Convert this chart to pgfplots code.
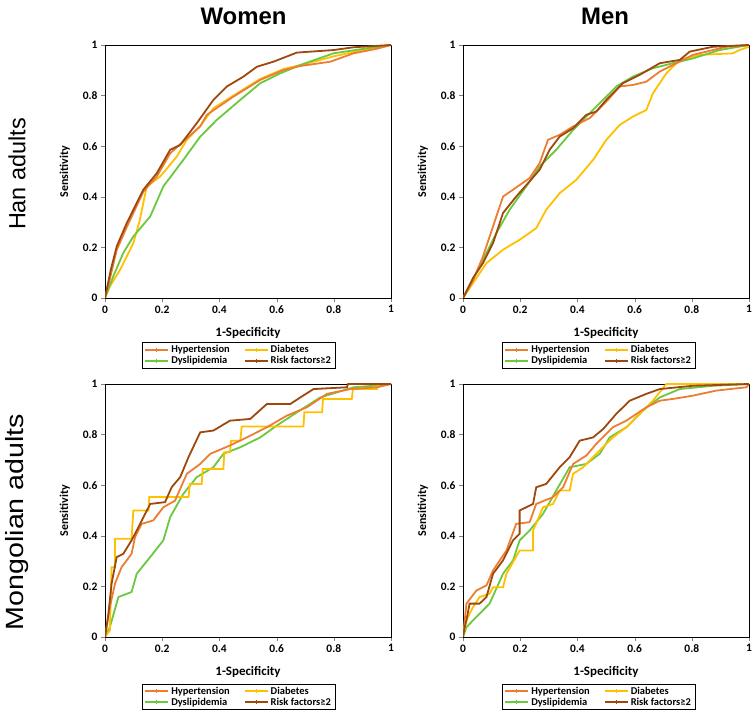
\documentclass[border=0pt]{standalone}
\usepackage{pgfplots}
\pgfplotsset{compat=1.18}
\usepackage{fontspec}
\setmainfont{Carlito}
\newfontfamily\arial{Liberation Sans}
\definecolor{hyp}{HTML}{ED7D31}
\definecolor{dia}{HTML}{FFC000}
\definecolor{dys}{HTML}{6CC83C}
\definecolor{risk}{HTML}{9E480E}
\pgfplotsset{
  rocax/.style={
    scale only axis, width=286bp, height=253bp,
    xmin=0, xmax=1, ymin=0, ymax=1,
    xtick={0,0.2,...,1}, ytick={0,0.2,...,1},
    xtick pos=left, ytick pos=left, tick align=outside,
    major tick length=4bp,
    /pgf/number format/assume math mode=true,
    ticklabel style={font=\bfseries\fontsize{11.5}{13}\selectfont},
    xlabel={1-Specificity}, ylabel={Sensitivity},
    xlabel style={font=\bfseries\fontsize{13}{15}\selectfont, at={(axis description cs:0.5,-0.138)}, anchor=center},
    ylabel style={font=\bfseries\fontsize{12}{14}\selectfont, at={(axis description cs:-0.14,0.5)}, anchor=center},
    axis line style={line width=0.8bp},
    every axis plot/.append style={line width=1.8bp, no markers},
    legend columns=2,
    legend cell align=left,
    legend style={font=\bfseries\fontsize{10.5}{11}\selectfont, draw=black, line width=0.7bp,
      inner xsep=2bp, inner ysep=0.8bp, row sep=-1.5bp,
      /tikz/every even column/.append style={column sep=12bp}},
    legend image code/.code={%
      \draw[#1, line width=2bp] (0bp,0bp) -- (23bp,0bp);
      \draw[#1, line width=0.9bp] (11.5bp,-2bp) -- (11.5bp,2bp);},
  },
}
\newcommand\rocleg{%
\addlegendimage{hyp}
\addlegendimage{dia}
\addlegendimage{dys}
\addlegendimage{risk}
\legend{Hypertension,Diabetes,Dyslipidemia,Risk factors≥2}}
\begin{document}
\begin{tikzpicture}
\path[use as bounding box] (0,0) rectangle (756bp,710bp);
\node[font=\arial\bfseries\fontsize{24}{26}\selectfont] at (243.5bp,694bp) {Women};
\node[font=\arial\bfseries\fontsize{24}{26}\selectfont] at (605bp,694bp) {Men};
\node[rotate=90, font=\arial\fontsize{23.5}{25}\selectfont] at (17bp,536bp) {Han adults};
\node[rotate=90, font=\arial\fontsize{25}{27}\selectfont] at (17bp,188bp) {\scalebox{1.15}[1]{Mongolian adults}};

% ---------------- Han women
\begin{axis}[rocax, at={(105bp,412bp)}, anchor=south west,
  legend style={at={(axis description cs:0.467,-0.174)}, anchor=north}]
\rocleg
\addplot[dia, forget plot] coordinates {(0,0) (0.017,0.046) (0.053,0.112) (0.099,0.217) (0.120,0.300) (0.146,0.441) (0.193,0.480) (0.251,0.559) (0.286,0.625) (0.333,0.680) (0.379,0.750) (0.449,0.800) (0.543,0.866) (0.624,0.905) (0.700,0.925) (0.799,0.955) (0.880,0.975) (1,1)};
\addplot[dys, forget plot] coordinates {(0,0) (0.029,0.086) (0.064,0.178) (0.099,0.243) (0.158,0.322) (0.204,0.441) (0.274,0.546) (0.333,0.638) (0.391,0.704) (0.473,0.783) (0.543,0.849) (0.613,0.888) (0.683,0.921) (0.799,0.967) (0.916,0.987) (1,1)};
\addplot[hyp, forget plot] coordinates {(0,0) (0.020,0.090) (0.041,0.190) (0.076,0.280) (0.134,0.420) (0.181,0.480) (0.228,0.572) (0.280,0.625) (0.333,0.678) (0.356,0.724) (0.449,0.796) (0.543,0.862) (0.624,0.901) (0.683,0.917) (0.788,0.934) (0.869,0.967) (0.950,0.985) (1,1)};
\addplot[risk, forget plot] coordinates {(0,0) (0.020,0.110) (0.041,0.204) (0.076,0.296) (0.134,0.428) (0.181,0.493) (0.228,0.586) (0.263,0.605) (0.321,0.691) (0.379,0.783) (0.426,0.836) (0.484,0.875) (0.531,0.914) (0.589,0.934) (0.671,0.970) (0.799,0.980) (0.869,0.991) (1,1)};
\end{axis}

% ---------------- Han men
\begin{axis}[rocax, at={(463bp,412bp)}, anchor=south west,
  legend style={at={(axis description cs:0.474,-0.174)}, anchor=north}]
\rocleg
\addplot[dia, forget plot] coordinates {(0,0) (0.035,0.059) (0.082,0.138) (0.140,0.191) (0.198,0.230) (0.256,0.276) (0.291,0.349) (0.338,0.414) (0.396,0.467) (0.455,0.546) (0.501,0.625) (0.548,0.684) (0.594,0.717) (0.641,0.743) (0.664,0.809) (0.711,0.888) (0.758,0.941) (0.828,0.961) (0.944,0.967) (0.967,0.980) (1,0.993)};
\addplot[dys, forget plot] coordinates {(0,0) (0.023,0.046) (0.070,0.151) (0.117,0.257) (0.163,0.349) (0.221,0.441) (0.268,0.520) (0.326,0.586) (0.385,0.664) (0.431,0.717) (0.478,0.770) (0.536,0.836) (0.594,0.875) (0.664,0.908) (0.734,0.928) (0.804,0.947) (0.897,0.980) (1,1)};
\addplot[hyp, forget plot] coordinates {(0,0) (0.035,0.070) (0.070,0.164) (0.105,0.283) (0.140,0.401) (0.175,0.428) (0.233,0.474) (0.268,0.533) (0.297,0.625) (0.338,0.645) (0.385,0.678) (0.443,0.711) (0.501,0.776) (0.548,0.836) (0.594,0.842) (0.641,0.855) (0.688,0.895) (0.746,0.928) (0.804,0.961) (0.921,0.993) (1,1)};
\addplot[risk, forget plot] coordinates {(0,0) (0.035,0.079) (0.070,0.138) (0.105,0.217) (0.140,0.336) (0.186,0.401) (0.233,0.461) (0.268,0.507) (0.303,0.586) (0.338,0.638) (0.385,0.671) (0.431,0.724) (0.466,0.737) (0.501,0.783) (0.559,0.849) (0.618,0.882) (0.688,0.928) (0.758,0.941) (0.793,0.974) (0.874,0.993) (1,1)};
\end{axis}

% ---------------- Mongolian women
\begin{axis}[rocax, at={(105bp,73bp)}, anchor=south west,
  legend style={at={(axis description cs:0.467,-0.184)}, anchor=north}]
\rocleg
\addplot[dys, forget plot] coordinates {(0,0) (0.017,0.039) (0.047,0.158) (0.093,0.178) (0.111,0.250) (0.158,0.316) (0.204,0.382) (0.228,0.474) (0.274,0.566) (0.321,0.632) (0.379,0.671) (0.414,0.724) (0.473,0.750) (0.543,0.789) (0.601,0.836) (0.671,0.888) (0.753,0.947) (0.869,0.987) (0.986,0.997) (1,1)};
\addplot[dia, forget plot] coordinates {(0,0) (0.017,0.026) (0.023,0.276) (0.035,0.276) (0.035,0.388) (0.093,0.388) (0.099,0.500) (0.152,0.500) (0.155,0.553) (0.292,0.553) (0.297,0.605) (0.338,0.605) (0.342,0.664) (0.414,0.664) (0.417,0.730) (0.437,0.730) (0.441,0.776) (0.473,0.776) (0.478,0.832) (0.694,0.832) (0.697,0.888) (0.759,0.888) (0.762,0.941) (0.863,0.941) (0.867,0.980) (0.951,0.980) (0.955,1) (1,1)};
\addplot[hyp, forget plot] coordinates {(0,0) (0.017,0.118) (0.035,0.211) (0.058,0.276) (0.093,0.329) (0.105,0.395) (0.128,0.447) (0.169,0.461) (0.204,0.513) (0.245,0.539) (0.286,0.645) (0.333,0.684) (0.368,0.724) (0.437,0.757) (0.496,0.789) (0.566,0.829) (0.636,0.875) (0.706,0.908) (0.776,0.961) (0.858,0.980) (0.951,0.987) (1,1)};
\addplot[risk, forget plot] coordinates {(0,0) (0.012,0.092) (0.023,0.211) (0.041,0.316) (0.064,0.329) (0.093,0.382) (0.117,0.434) (0.158,0.526) (0.210,0.533) (0.233,0.592) (0.263,0.632) (0.292,0.711) (0.333,0.809) (0.379,0.816) (0.437,0.855) (0.508,0.862) (0.566,0.921) (0.648,0.921) (0.683,0.947) (0.729,0.980) (0.846,0.987) (0.850,1) (1,1)};
\end{axis}

% ---------------- Mongolian men
\begin{axis}[rocax, at={(463bp,73bp)}, anchor=south west,
  legend style={at={(axis description cs:0.474,-0.184)}, anchor=north}]
\rocleg
\addplot[dys, forget plot] coordinates {(0,0) (0.012,0.039) (0.058,0.092) (0.093,0.132) (0.140,0.250) (0.175,0.303) (0.198,0.382) (0.233,0.421) (0.280,0.487) (0.326,0.579) (0.373,0.671) (0.431,0.684) (0.478,0.724) (0.513,0.789) (0.571,0.829) (0.629,0.895) (0.688,0.947) (0.758,0.980) (0.874,0.993) (1,1)};
\addplot[dia, forget plot] coordinates {(0,0) (0.012,0.066) (0.035,0.118) (0.058,0.158) (0.093,0.171) (0.105,0.197) (0.140,0.197) (0.152,0.250) (0.198,0.342) (0.245,0.342) (0.245,0.421) (0.280,0.513) (0.315,0.526) (0.338,0.579) (0.373,0.579) (0.385,0.645) (0.420,0.671) (0.466,0.724) (0.524,0.789) (0.571,0.829) (0.618,0.882) (0.664,0.934) (0.711,1) (1,1)};
\addplot[hyp, forget plot] coordinates {(0,0) (0.012,0.132) (0.047,0.184) (0.082,0.204) (0.105,0.263) (0.152,0.342) (0.186,0.447) (0.233,0.454) (0.256,0.526) (0.315,0.553) (0.350,0.592) (0.385,0.684) (0.431,0.717) (0.466,0.763) (0.524,0.829) (0.571,0.855) (0.641,0.908) (0.688,0.934) (0.734,0.941) (0.804,0.954) (0.886,0.974) (0.991,0.987) (1,1)};
\addplot[risk, forget plot] coordinates {(0,0) (0.006,0.039) (0.012,0.066) (0.023,0.132) (0.058,0.132) (0.082,0.158) (0.105,0.250) (0.140,0.303) (0.175,0.382) (0.198,0.408) (0.198,0.500) (0.245,0.526) (0.256,0.592) (0.291,0.605) (0.338,0.671) (0.373,0.711) (0.408,0.776) (0.455,0.789) (0.490,0.822) (0.536,0.882) (0.583,0.934) (0.641,0.961) (0.688,0.980) (0.804,0.993) (1,1)};
\end{axis}
\end{tikzpicture}
\end{document}
